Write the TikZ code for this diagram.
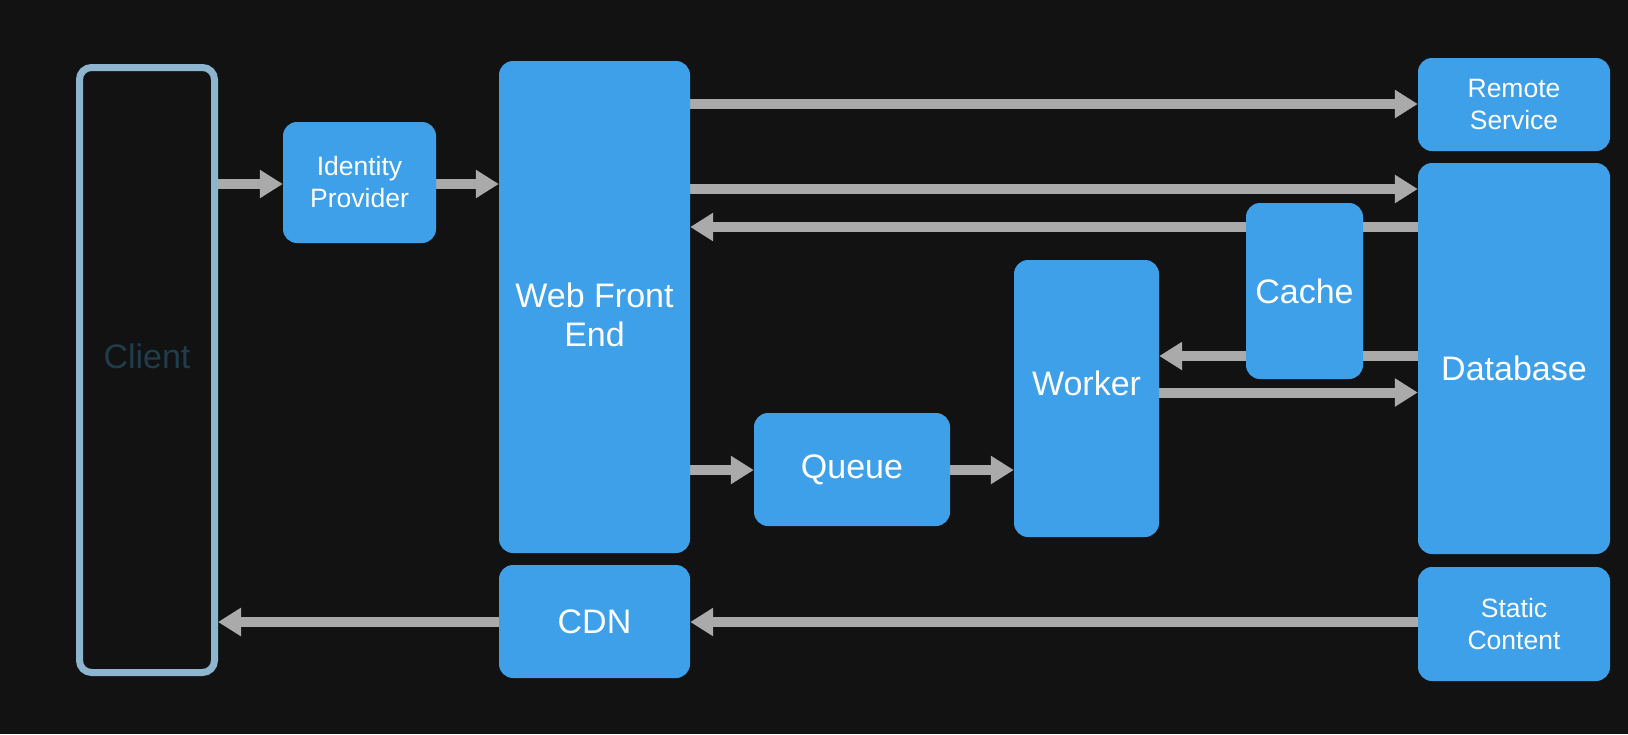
\documentclass[tikz,border=0pt]{standalone}
\usepackage{fontspec}
\setmainfont{Liberation Sans}
\usetikzlibrary{arrows.meta}
\definecolor{bgc}{HTML}{121212}
\definecolor{boxblue}{HTML}{3FA0EA}
\definecolor{arrgray}{HTML}{AAAAAA}
\definecolor{clientedge}{HTML}{8DB5CF}
\definecolor{clienttext}{HTML}{1F3D4C}
\newcommand\fbig{\fontsize{34}{39.5}\selectfont}
\newcommand\fsmall{\fontsize{26.5}{32}\selectfont}
\pgfdeclarelayer{bglayer}
\pgfdeclarelayer{arrlayer}
\pgfsetlayers{bglayer,arrlayer,main}
\begin{document}
\begin{tikzpicture}[x=1pt,y=-1pt,
  box/.style={fill=boxblue, rounded corners=14pt, inner sep=0pt, text=white, align=center, font=\fbig},
  smallbox/.style={box, font=\fsmall},
  clientbox/.style={draw=clientedge, line width=7pt, rounded corners=12pt, inner sep=0pt},
  lab/.style={text=white, font=\fbig, align=center},
  arr/.style={draw=arrgray, line width=10pt, -{Triangle[width=27pt,length=23pt]}}
]
\begin{pgfonlayer}{bglayer}
\fill[bgc] (0,0) rectangle (1628,734);
\end{pgfonlayer}
\path[use as bounding box] (0,0) rectangle (1628,734);

\node[clientbox, minimum width=135pt, minimum height=605pt,
  label={[font=\fbig, text=clienttext, yshift=14pt]center:Client}] (client) at (147,370) {};
\node[smallbox, minimum width=153pt, minimum height=121pt] (idp) at (359.5,182.5) {Identity\\Provider};
\node[box, minimum width=191pt, minimum height=492pt,
  label={[lab, yshift=-8pt]center:Web Front\\End}] (wfe) at (594.5,307) {};
\node[box, minimum width=191pt, minimum height=113pt] (cdn) at (594.5,621.5) {CDN};
\node[box, minimum width=196pt, minimum height=113pt] (queue) at (852,469.5) {Queue};
\node[box, minimum width=145pt, minimum height=277pt,
  label={[lab, yshift=15pt]center:Worker}] (worker) at (1086.5,398.5) {};
\node[box, minimum width=117pt, minimum height=176pt] (cache) at (1304.5,291) {Cache};
\node[smallbox, minimum width=192pt, minimum height=93pt] (remote) at (1514,104.5) {Remote\\Service};
\node[box, minimum width=192pt, minimum height=391pt,
  label={[lab, yshift=-10pt]center:Database}] (db) at (1514,358.5) {};
\node[smallbox, minimum width=192pt, minimum height=114pt] (static) at (1514,624) {Static\\Content};

\begin{pgfonlayer}{arrlayer}
\draw[arr] (client.east |- 0,184) -- (idp.west |- 0,184);
\draw[arr] (idp.east |- 0,184) -- (wfe.west |- 0,184);
\draw[arr] (wfe.east |- 0,104) -- (remote.west |- 0,104);
\draw[arr] (wfe.east |- 0,189) -- (db.west |- 0,189);
\draw[arr] (db.west |- 0,227) -- (wfe.east |- 0,227);
\draw[arr] (db.west |- 0,356) -- (worker.east |- 0,356);
\draw[arr] (worker.east |- 0,392.5) -- (db.west |- 0,392.5);
\draw[arr] (wfe.east |- 0,470) -- (queue.west |- 0,470);
\draw[arr] (queue.east |- 0,470) -- (worker.west |- 0,470);
\draw[arr] (static.west |- 0,622) -- (cdn.east |- 0,622);
\draw[arr] (cdn.west |- 0,622) -- (client.east |- 0,622);
\end{pgfonlayer}
\end{tikzpicture}
\end{document}
